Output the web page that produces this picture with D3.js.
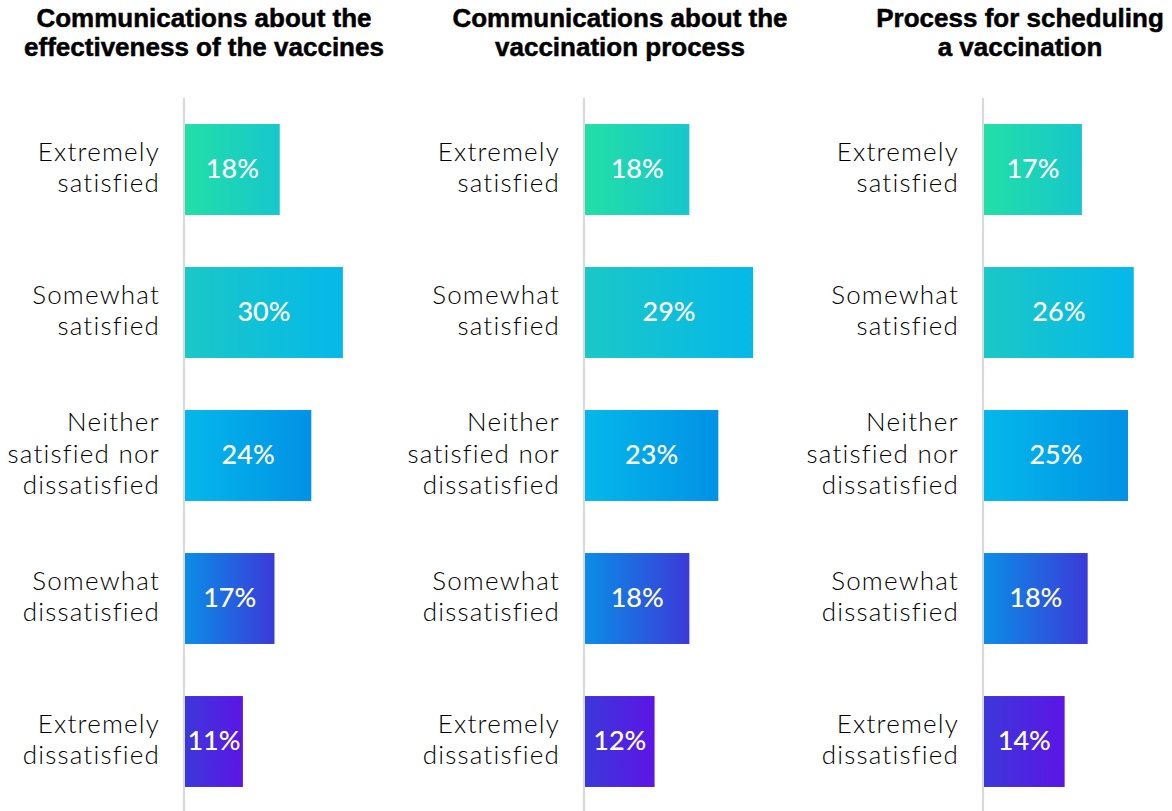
<!DOCTYPE html>
<html>
<head>
<meta charset="utf-8">
<script src="https://cdn.jsdelivr.net/npm/d3@7"></script>
<style>
  html, body { margin: 0; padding: 0; background: #ffffff; }
  svg { display: block; }
</style>
</head>
<body>
<svg id="chart" width="1172" height="811"></svg>
<script>
// Survey satisfaction, three aspects of the vaccine rollout
const panelTitles = [
  ["Communications about the", "effectiveness of the vaccines"],
  ["Communications about the", "vaccination process"],
  ["Process for scheduling", "a vaccination"]
];
const categories = [
  ["Extremely", "satisfied"],
  ["Somewhat", "satisfied"],
  ["Neither", "satisfied nor", "dissatisfied"],
  ["Somewhat", "dissatisfied"],
  ["Extremely", "dissatisfied"]
];
const effectivenessValues = [18, 30, 24, 17, 11];
const processValues = [18, 29, 23, 18, 12];
const schedulingValues = [17, 26, 25, 18, 14];
const panelValues = [effectivenessValues, processValues, schedulingValues];
// upper end of each panel's value axis
const axisMax = [34.2, 31.05, 31.25];

// gradient stops per answer row (left, right)
const rowGradients = [
  ["#22dfa6", "#16c7cc"],
  ["#1ac8c6", "#05b8ea"],
  ["#04b8ea", "#0291e6"],
  ["#0a8ee6", "#3b3ad9"],
  ["#3c38da", "#5c15e6"]
];

const svg = d3.select("#chart");
const defs = svg.append("defs");
rowGradients.forEach((g, i) => {
  const lg = defs.append("linearGradient")
    .attr("id", "row-grad-" + i)
    .attr("x1", "0%").attr("x2", "100%")
    .attr("y1", "0%").attr("y2", "0%");
  lg.append("stop").attr("offset", "0%").attr("stop-color", g[0]);
  lg.append("stop").attr("offset", "100%").attr("stop-color", g[1]);
});

const axisX = [184, 584, 983];
const titleCx = [204, 620, 1020];
const barRange = 180;

const y = d3.scaleBand()
  .domain(d3.range(categories.length))
  .range([124 - 26, 787 + 26])
  .paddingInner(0.364)
  .paddingOuter(0.182);

panelValues.forEach((vals, p) => {
  const x = d3.scaleLinear().domain([0, axisMax[p]]).range([0, barRange]);
  const g = svg.append("g").attr("transform", `translate(${axisX[p]},0)`);

  // panel title
  const t = svg.append("text")
    .attr("x", titleCx[p])
    .attr("text-anchor", "middle")
    .style("font-family", "'Liberation Sans', Arial, sans-serif")
    .style("font-weight", "700")
    .style("font-size", "26px")
    .attr("fill", "#000")
    .attr("stroke", "#000")
    .attr("stroke-width", 0.5);
  panelTitles[p].forEach((line, i) => {
    t.append("tspan").attr("x", titleCx[p]).attr("y", 27 + i * 29).text(line);
  });

  // baseline rule
  g.append("line")
    .attr("x1", 0).attr("x2", 0)
    .attr("y1", 98).attr("y2", 811)
    .attr("stroke", "#d9d9d9")
    .attr("stroke-width", 2.2);

  // bars
  g.selectAll("rect.bar")
    .data(vals)
    .join("rect")
    .attr("class", "bar")
    .attr("x", 1)
    .attr("y", (d, i) => y(i))
    .attr("width", d => x(d))
    .attr("height", y.bandwidth())
    .attr("fill", (d, i) => `url(#row-grad-${i})`);

  // value labels
  g.selectAll("text.val")
    .data(vals)
    .join("text")
    .attr("class", "val")
    .attr("x", d => 1 + x(d) / 2)
    .attr("y", (d, i) => y(i) + y.bandwidth() / 2)
    .attr("dy", "0.33em")
    .attr("text-anchor", "middle")
    .style("font-family", "Lato, 'Open Sans', sans-serif")
    .style("font-weight", "500")
    .style("font-size", "27px")
    .attr("fill", "#ffffff")
    .text(d => d + "%");

  // category labels
  categories.forEach((lines, i) => {
    const cy = y(i) + y.bandwidth() / 2 - 2;
    const lh = 31.5;
    const top = cy - (lines.length - 1) * lh / 2;
    const lab = g.append("text")
      .attr("text-anchor", "end")
      .style("font-family", "Lato, 'Open Sans', sans-serif")
      .style("font-weight", "300")
      .style("font-size", "26px")
      .style("letter-spacing", "1.2px")
      .attr("fill", "#000");
    lines.forEach((line, k) => {
      lab.append("tspan")
        .attr("x", -24)
        .attr("y", top + k * lh)
        .attr("dy", "0.35em")
        .text(line);
    });
  });
});
</script>
</body>
</html>
